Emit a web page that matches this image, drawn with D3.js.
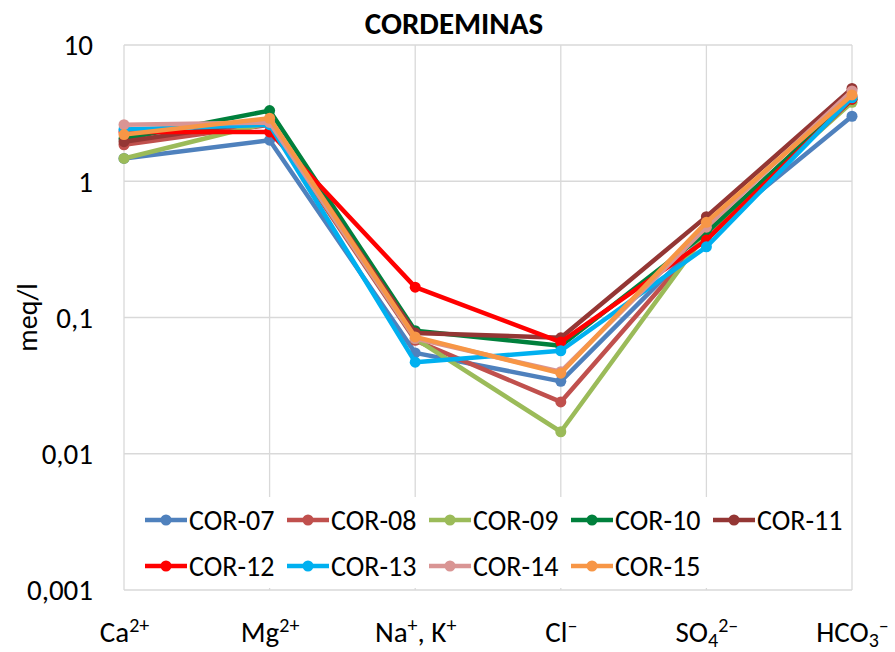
<!DOCTYPE html>
<html>
<head>
<meta charset="utf-8">
<script src="https://cdn.jsdelivr.net/npm/d3@7"></script>
<style>
  body { margin: 0; background: #fff; }
  text { font-family: Carlito, Lato, sans-serif; fill: #000; }
</style>
</head>
<body>
<div id="viz"></div>
<script>
// ions on the x axis
var categories = ['Ca²⁺', 'Mg²⁺', 'Na⁺, K⁺', 'Cl⁻', 'SO₄²⁻', 'HCO₃⁻'];
var yTicks = [10, 1, 0.1, 0.01, 0.001];
var yTickLabels = ['10', '1', '0,1', '0,01', '0,001'];

var seriesNames = ['COR-07', 'COR-08', 'COR-09', 'COR-10', 'COR-11', 'COR-12', 'COR-13', 'COR-14', 'COR-15'];
var seriesColors = ['#4f81bd', '#c0504d', '#9bbb59', '#00803c', '#943634', '#ff0000', '#00b0f0', '#d99594', '#f79646'];

var cor07 = [1.47, 2.0, 0.055, 0.034, 0.40, 3.0];
var cor08 = [1.85, 2.6, 0.068, 0.024, 0.40, 4.2];
var cor09 = [1.47, 2.7, 0.070, 0.0145, 0.42, 3.8];
var cor10 = [2.05, 3.3, 0.080, 0.062, 0.42, 4.0];
var cor11 = [1.95, 2.8, 0.077, 0.071, 0.55, 4.8];
var cor12 = [2.3, 2.3, 0.167, 0.066, 0.37, 4.0];
var cor13 = [2.4, 2.6, 0.047, 0.057, 0.33, 4.1];
var cor14 = [2.6, 2.7, 0.070, 0.040, 0.46, 4.6];
var cor15 = [2.2, 2.9, 0.072, 0.039, 0.50, 4.3];
var allValues = [cor07, cor08, cor09, cor10, cor11, cor12, cor13, cor14, cor15];

var chart = {width: 895, height: 652};
var plot = {left: 124, right: 852, top: 45, bottom: 590};

var svg = d3.select('#viz').append('svg')
  .attr('width', chart.width)
  .attr('height', chart.height);

var x = d3.scalePoint()
  .domain(categories)
  .range([plot.left, plot.right]);

var y = d3.scaleLog()
  .domain([0.001, 10])
  .range([plot.bottom, plot.top]);

// gridlines
svg.append('g')
  .selectAll('line.h')
  .data(yTicks)
  .enter()
  .append('line')
  .attr('x1', plot.left).attr('x2', plot.right)
  .attr('y1', d => y(d)).attr('y2', d => y(d))
  .attr('stroke', '#d9d9d9').attr('stroke-width', 1.3);

svg.append('g')
  .selectAll('line.v')
  .data(categories)
  .enter()
  .append('line')
  .attr('x1', d => x(d)).attr('x2', d => x(d))
  .attr('y1', plot.top).attr('y2', plot.bottom)
  .attr('stroke', '#d9d9d9').attr('stroke-width', 1.3);

// y axis labels
var yAxis = d3.axisLeft(y)
  .tickValues(yTicks)
  .tickSize(0)
  .tickPadding(31)
  .tickFormat((d, i) => yTickLabels[i]);

var yg = svg.append('g')
  .attr('transform', 'translate(' + plot.left + ',0)')
  .call(yAxis);
yg.select('.domain').remove();
yg.selectAll('text').style('font-size', '29px').attr('dy', '0.34em');

// x axis labels, super/subscripts drawn as shifted tspans
var xAxis = d3.axisBottom(x).tickSize(0).tickPadding(52);
var xg = svg.append('g')
  .attr('transform', 'translate(0,' + plot.bottom + ')')
  .call(xAxis);
xg.select('.domain').remove();

var supMap = {'²': '2', '⁺': '+', '⁻': '–'};
var subMap = {'₃': '3', '₄': '4'};
xg.selectAll('.tick text').each(function(d) {
  var t = d3.select(this).text('').attr('dy', null).style('font-size', '29px');
  var runs = [];
  for (var ch of d) {
    var kind = supMap[ch] ? 'sup' : (subMap[ch] ? 'sub' : 'n');
    var c = supMap[ch] || subMap[ch] || ch;
    if (runs.length && runs[runs.length - 1].kind === kind) runs[runs.length - 1].s += c;
    else runs.push({kind: kind, s: c});
  }
  var shift = 0;
  runs.forEach(function(r) {
    var target = r.kind === 'sup' ? -10 : (r.kind === 'sub' ? 5 : 0);
    t.append('tspan')
      .attr('dy', target - shift)
      .style('font-size', r.kind === 'n' ? '29px' : '20px')
      .text(r.s);
    shift = target;
  });
});

svg.append('text')
  .attr('transform', 'translate(30,' + ((plot.top + plot.bottom) / 2) + ') rotate(-90)')
  .attr('text-anchor', 'middle')
  .attr('dominant-baseline', 'middle')
  .style('font-size', '28px')
  .text('meq/l');

svg.append('text')
  .attr('x', 454).attr('y', 34)
  .attr('text-anchor', 'middle')
  .style('font-size', '31px')
  .style('font-weight', 'bold')
  .text('CORDEMINAS');

// series
var line = d3.line()
  .x((d, i) => x(categories[i]))
  .y(d => y(d));

var series = svg.append('g')
  .selectAll('g')
  .data(allValues)
  .enter()
  .append('g');

series.append('path')
  .attr('d', d => line(d))
  .attr('fill', 'none')
  .attr('stroke', (d, i) => seriesColors[i])
  .attr('stroke-width', 4.5)
  .attr('stroke-linejoin', 'round');

series.each(function(vals, si) {
  d3.select(this).selectAll('circle')
    .data(vals)
    .enter()
    .append('circle')
    .attr('cx', (d, i) => x(categories[i]))
    .attr('cy', d => y(d))
    .attr('r', 5.5)
    .attr('fill', seriesColors[si]);
});

// legend
var legend = svg.append('g').attr('id', 'legend');
legend.append('rect')
  .attr('x', plot.left + 2).attr('y', 497)
  .attr('width', plot.right - plot.left - 4).attr('height', 91)
  .attr('fill', '#fff');

var item = legend.selectAll('g.item')
  .data(seriesNames)
  .enter()
  .append('g')
  .attr('transform', (d, i) => 'translate(' + (145 + (i % 5) * 142) + ',' + (520 + Math.floor(i / 5) * 46) + ')');

item.append('line')
  .attr('x1', 0).attr('x2', 42)
  .attr('stroke', (d, i) => seriesColors[i])
  .attr('stroke-width', 4.5);
item.append('circle')
  .attr('cx', 21).attr('r', 5.5)
  .attr('fill', (d, i) => seriesColors[i]);
item.append('text')
  .attr('x', 44)
  .attr('dy', '0.35em')
  .style('font-size', '28px')
  .text(d => d);
</script>
</body>
</html>
